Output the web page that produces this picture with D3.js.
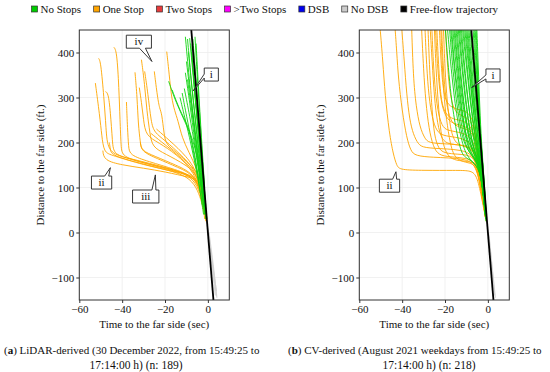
<!DOCTYPE html>
<html>
<head>
<meta charset="utf-8">
<script src="https://cdn.jsdelivr.net/npm/d3@7"></script>
<style>
  body { margin: 0; background: #fff; }
  svg text { font-family: "Liberation Serif", "Times New Roman", serif; }
</style>
</head>
<body>
<div id="chart"></div>
<script>
// Trajectory plots: time to far side (sec) vs distance to far side (ft)
// Each trajectory is a list of [time, distance] points.

const legendLabels = ['No Stops', 'One Stop', 'Two Stops', '>Two Stops', 'DSB', 'No DSB', 'Free-flow trajectory'];
const legendColors = ['#00cc00', '#ffa500', '#e83b3b', '#ff00ff', '#0000ee', '#cccccc', '#000000'];

const xTicks = [-60, -40, -20, 0];
const yTicks = [-100, 0, 100, 200, 300, 400];

const freeFlow = [[-7.9, 460], [2.6, -150]];

// (a) LiDAR-derived
const lidarOneStop = [
  [[-52.5, 332], [-50.5, 260], [-49.5, 215], [-48.5, 178], [-45, 172], [-30, 150], [-15, 135], [-5, 122], [-2.5, 80], [-1.5, 30]],
  [[-51, 387], [-50, 380], [-48.5, 300], [-47.5, 230], [-46.8, 180], [-40, 168], [-25, 148], [-10, 130], [-4, 120], [-2, 60]],
  [[-47.8, 313], [-46.5, 310], [-45.5, 270], [-44.5, 200], [-44, 172], [-35, 163], [-20, 145], [-5, 124], [-2, 50]],
  [[-44, 412], [-42.5, 405], [-41.5, 320], [-41, 250], [-40.5, 190], [-40, 168], [-30, 155], [-15, 138], [-5, 123], [-2.5, 70]],
  [[-49, 182], [-48.5, 160], [-40, 150], [-30, 143], [-20, 135], [-8, 122], [-3, 115], [-1.5, 40]],
  [[-34, 356], [-33, 300], [-32.5, 240], [-31.5, 200], [-31, 182], [-25, 170], [-15, 150], [-5, 128], [-2, 60]],
  [[-31, 384], [-29.5, 330], [-28.5, 270], [-27, 220], [-26, 190], [-20, 175], [-10, 150], [-4, 125], [-1.5, 40]],
  [[-29.5, 358], [-28, 310], [-26.5, 245], [-25, 222], [-20, 205], [-12, 170], [-5, 135], [-2, 60]],
  [[-25, 358], [-23.5, 300], [-22.5, 275], [-21.5, 265], [-20.5, 220], [-19.5, 195], [-15, 180], [-8, 150], [-3, 122], [-1, 30]],
  [[-19.2, 402], [-18, 350], [-17, 300], [-15.5, 270], [-14, 250], [-12, 210], [-9, 180], [-5, 140], [-2, 90], [-1, 25]],
  [[-32, 322], [-31, 290], [-30, 250], [-29, 215], [-23, 200], [-15, 175], [-6, 135], [-2.5, 70]],
  [[-38, 290], [-37.5, 230], [-37, 190], [-36.5, 172], [-28, 158], [-15, 140], [-5, 122], [-2, 60]],
  [[-46, 200], [-45.5, 185], [-45, 172], [-35, 158], [-20, 140], [-6, 122], [-2, 50]],
  [[-26.5, 220], [-20, 195], [-12, 165], [-5, 130], [-2, 70]],
  [[-24, 230], [-18, 205], [-10, 170], [-4, 128], [-1.5, 40]],
  [[-31.5, 200], [-31, 180], [-24, 165], [-14, 145], [-5, 125], [-2, 60]]
];

const lidarNoStop = [
  [[-10.5, 435], [-8.5, 330], [-6, 220], [-3.5, 120], [-1.5, 50]],
  [[-9.5, 430], [-8, 350], [-5.5, 230], [-3, 120], [-1.5, 45]],
  [[-8.5, 432], [-6.5, 330], [-4.5, 220], [-2.5, 110], [-1, 30]],
  [[-7, 430], [-5.5, 340], [-4, 230], [-2.5, 120], [-1, 40]],
  [[-10.5, 355], [-8.5, 290], [-6, 200], [-3.5, 110], [-1.5, 40]],
  [[-18.3, 336], [-15, 290], [-10, 240], [-6.7, 199], [-3.5, 88], [-2, 40]],
  [[-16.7, 317], [-13, 270], [-9.8, 243], [-6, 190], [-4.3, 154], [-2, 60]],
  [[-11, 320], [-8.5, 260], [-6, 190], [-3, 100]],
  [[-6, 435], [-5, 350], [-3.5, 240], [-2, 120], [-0.5, 30]],
  [[-9, 400], [-7.5, 320], [-5, 220], [-3, 130], [-1.5, 60]],
  [[-12, 310], [-10, 260], [-7.5, 200], [-4, 110]],
  [[-8, 420], [-6, 310], [-4, 200], [-2, 90]],
  [[-10, 380], [-8, 300], [-6, 230], [-4, 150], [-2, 80]],
  [[-7.5, 400], [-6.5, 330], [-5, 260], [-3, 160], [-1.5, 70]],
  [[-5.5, 420], [-4.5, 330], [-3, 210], [-1.5, 100]],
  [[-9.5, 340], [-7.5, 270], [-5, 180], [-2.5, 80]],
  [[-13, 300], [-10.5, 250], [-8, 200], [-5, 130], [-2.5, 60]]
];

const lidarNoDsb = [
  [[0, 10], [2, -60], [4, -140]],
  [[0.5, 0], [2.5, -70], [4.2, -145]],
  [[0, 5], [1.8, -70], [3.5, -140]],
  [[0.3, -10], [3, -100], [4, -130]]
];

// (b) CV-derived
const cvOneStop = [
  [[-50.4, 460], [-49, 380], [-48, 307], [-46, 220], [-44.1, 173], [-42.5, 148], [-41, 139], [-30, 138], [-15, 138], [-8.4, 138], [-5.2, 129], [-3, 80], [-0.8, 25]],
  [[-43.4, 460], [-42.5, 400], [-41.8, 344], [-40, 270], [-37.9, 210], [-36, 182], [-34, 170], [-25, 167], [-19, 166], [-10, 163], [-5.5, 150], [-3, 90], [-1, 30]],
  [[-40.3, 460], [-39, 380], [-37.9, 307], [-36.5, 250], [-34.8, 218], [-32.5, 196], [-30, 188], [-20, 186], [-14.6, 184], [-8, 178], [-5, 150], [-2.5, 80], [-1, 30]],
  [[-35.6, 460], [-34.8, 344], [-33.5, 280], [-31.7, 233], [-29.5, 210], [-27.8, 199], [-20, 197], [-12, 195], [-7, 185], [-4.5, 150], [-2.5, 80], [-1, 30]],
  [[-29.4, 460], [-28.6, 370], [-27.5, 300], [-26, 255], [-24, 225], [-21, 215], [-15, 212], [-9, 205], [-5.5, 175], [-3, 100], [-1, 30]],
  [[-26.2, 460], [-25.5, 380], [-24.5, 310], [-23, 260], [-21, 232], [-18, 226], [-12, 222], [-7, 210], [-4.5, 165], [-2.5, 80]],
  [[-23.9, 460], [-23, 370], [-22, 300], [-20.5, 270], [-18, 255], [-14, 250], [-9, 245], [-6, 215], [-4, 150], [-2, 70]],
  [[-22.7, 460], [-22, 390], [-21, 320], [-19.5, 290], [-17, 278], [-13, 272], [-9, 268], [-6, 240], [-3.5, 150], [-1.5, 50]],
  [[-21.6, 460], [-21, 380], [-20, 310], [-18.5, 265], [-16.5, 240], [-12, 232], [-7, 225], [-4.5, 180], [-2.5, 90]],
  [[-31, 460], [-30, 360], [-29, 290], [-27.5, 230], [-25.5, 190], [-23, 172], [-18, 168], [-10, 166], [-5.5, 155], [-3, 90], [-1, 30]],
  [[-28, 460], [-27, 340], [-26, 270], [-25, 215], [-23, 185], [-20, 176], [-14, 174], [-8, 172], [-5, 155], [-2.5, 70]],
  [[-25, 460], [-24.2, 360], [-23.2, 290], [-22, 220], [-20, 180], [-17, 162], [-12, 159], [-7, 157], [-4.5, 145], [-2, 60]],
  [[-20.8, 460], [-20, 360], [-19, 290], [-17.5, 230], [-15.5, 200], [-12, 192], [-8, 188], [-5, 170], [-3, 110], [-1.2, 40]],
  [[-24.5, 460], [-23.8, 390], [-22.8, 330], [-21.5, 280], [-19, 250], [-15, 240], [-10, 236], [-6, 220], [-4, 160], [-2, 70]],
  [[-27, 460], [-26, 380], [-25, 300], [-23.5, 240], [-21.5, 205], [-18, 196], [-12, 194], [-7, 190], [-4.5, 160], [-2.5, 80]],
  [[-19.8, 460], [-19, 380], [-18, 320], [-16.5, 280], [-14, 262], [-10, 256], [-6.5, 240], [-4, 170], [-2, 80]],
  [[-22, 460], [-21.3, 370], [-20.3, 290], [-19, 240], [-17, 180], [-14, 160], [-9, 155], [-5.5, 150], [-3, 100], [-1.2, 40]]
];

const cvNoStop = [
  [[-20, 460], [-17.5, 307], [-15, 233], [-12.5, 175], [-10, 165], [-4, 150], [-2.2, 90], [-0.8, 25]],
  [[-19, 460], [-16.5, 330], [-14, 240], [-11, 180], [-8, 160], [-3.5, 140], [-2, 80], [-0.8, 25]],
  [[-18, 460], [-16, 340], [-13.5, 250], [-11, 190], [-6, 165], [-3, 130], [-1.5, 50]],
  [[-17.5, 460], [-15, 330], [-12.5, 240], [-10, 185], [-7, 170], [-3.5, 140], [-1.5, 50]],
  [[-16.5, 460], [-14.5, 350], [-12, 260], [-9.5, 200], [-6, 175], [-3, 130], [-1.2, 40]],
  [[-16, 460], [-13.5, 330], [-11, 230], [-8.5, 180], [-5, 160], [-2.5, 110], [-1, 30]],
  [[-15, 460], [-13, 350], [-11, 270], [-8.5, 210], [-5.5, 175], [-3, 130], [-1.2, 40]],
  [[-14.5, 460], [-12.5, 340], [-10, 240], [-8, 190], [-5.5, 165], [-2.5, 110], [-1, 30]],
  [[-14, 460], [-12, 360], [-10, 270], [-7.5, 200], [-4.5, 160], [-2.5, 110], [-1, 30]],
  [[-13.5, 460], [-11.5, 350], [-9.5, 260], [-7, 190], [-4, 150], [-2, 90], [-0.8, 30]],
  [[-13, 460], [-11, 360], [-9, 280], [-7, 220], [-4.5, 170], [-2.5, 110], [-1, 30]],
  [[-12.5, 460], [-10.5, 350], [-8.5, 260], [-6.5, 200], [-4, 155], [-2, 90], [-0.8, 30]],
  [[-12, 460], [-10, 370], [-8, 280], [-6, 210], [-4, 165], [-2, 90], [-0.8, 30]],
  [[-11.5, 460], [-9.5, 360], [-7.5, 270], [-5.5, 200], [-3.5, 150], [-1.5, 60]],
  [[-11, 460], [-9, 370], [-7.5, 300], [-5.5, 220], [-3.5, 160], [-1.5, 60]],
  [[-10.5, 460], [-8.5, 360], [-7, 280], [-5, 200], [-3.5, 150], [-1.5, 60]],
  [[-10, 460], [-8.5, 380], [-7, 300], [-5, 220], [-3, 150], [-1.2, 50]],
  [[-9.5, 460], [-8, 370], [-6.5, 290], [-5, 230], [-3, 160], [-1.2, 50]],
  [[-9, 460], [-7.5, 370], [-6, 280], [-4.5, 210], [-3, 160], [-1, 40]],
  [[-8.5, 460], [-7, 380], [-6, 310], [-4.5, 230], [-3, 170], [-1, 40]],
  [[-8, 460], [-6.5, 370], [-5.5, 300], [-4, 220], [-2.5, 150], [-1, 40]],
  [[-7, 460], [-6, 380], [-5, 300], [-4, 230], [-2.5, 150], [-1, 40]],
  [[-6.5, 460], [-5.5, 370], [-4.5, 290], [-3.5, 210], [-2, 130], [-0.8, 40]],
  [[-6, 460], [-5.2, 380], [-4.5, 300], [-3.5, 220], [-2, 130], [-0.8, 40]],
  [[-5.5, 460], [-5, 380], [-4.2, 290], [-3.2, 200], [-2, 120], [-0.7, 35]],
  [[-5.2, 460], [-4.5, 370], [-3.8, 280], [-3, 200], [-1.8, 120], [-0.7, 35]],
  [[-17, 460], [-15.5, 360], [-13, 280], [-10.5, 210], [-8, 172], [-4.5, 160], [-2.2, 90]],
  [[-15.5, 460], [-14, 370], [-12, 290], [-9.5, 220], [-7, 180], [-4, 165], [-2, 90]]
];

const cvNoDsb = [
  [[0.5, -5], [2, -80], [3.5, -145]],
  [[0.3, 0], [2.2, -90], [3.2, -140]]
];

// callouts: [label, box time, box dist, tip time, tip dist, tail side]
const lidarNotes = [
  ['iv', -32.2, 424, -26.1, 380, 'bottom'],
  ['i', 1.6, 351, -6.8, 315, 'left'],
  ['ii', -49.6, 111, -45.5, 144, 'top'],
  ['iii', -29, 80, -24.5, 128, 'top']
];
const cvNotes = [
  ['i', 2.4, 349, -7.6, 322, 'left'],
  ['ii', -45.9, 104, -42.9, 135, 'top']
];

const captionA = ['a', ' LiDAR-derived (30 December 2022, from 15:49:25 to', '17:14:00 h) (n: 189)'];
const captionB = ['b', ' CV-derived (August 2021 weekdays from 15:49:25 to', '17:14:00 h) (n: 218)'];

const W = 550, H = 372;
const plotTop = 30, plotBottom = 300, plotWidth = 150;
const FONT = '"Liberation Serif", "Times New Roman", serif';

const svg = d3.select('#chart').append('svg')
  .attr('width', W).attr('height', H);

// ---- legend ----
const legend = svg.append('g').attr('transform', 'translate(31.5,9)');
let lx = 0;
legendLabels.forEach((lab, i) => {
  legend.append('rect')
    .attr('x', lx).attr('y', -3).attr('width', 6).attr('height', 6)
    .attr('fill', legendColors[i]).attr('stroke', '#333').attr('stroke-width', 0.7);
  const t = legend.append('text')
    .attr('x', lx + 9).attr('y', 0).attr('dy', '0.35em')
    .attr('font-family', FONT).attr('font-size', 11).attr('fill', '#111').text(lab);
  lx += 9 + t.node().getComputedTextLength() + 12.5;
});

const panels = [
  { id: 'a', left: 79.3, oneStop: lidarOneStop, noStop: lidarNoStop, noDsb: lidarNoDsb, notes: lidarNotes, caption: captionA, capLeft: 4, capX2: 136 },
  { id: 'b', left: 359.3, oneStop: cvOneStop, noStop: cvNoStop, noDsb: cvNoDsb, notes: cvNotes, caption: captionB, capLeft: 288, capX2: 429 }
];

panels.forEach(p => {
  const g = svg.append('g').attr('transform', `translate(${p.left},0)`);
  const x = d3.scaleLinear().domain([-60, 10]).range([0, plotWidth]);
  const y = d3.scaleLinear().domain([-150, 450]).range([plotBottom, plotTop]);

  const clipId = 'clip-' + p.id;
  g.append('clipPath').attr('id', clipId)
    .append('rect').attr('x', 0).attr('y', plotTop).attr('width', plotWidth).attr('height', plotBottom - plotTop);

  // grid
  g.append('g').selectAll('line').data(xTicks).join('line')
    .attr('x1', d => x(d)).attr('x2', d => x(d)).attr('y1', plotTop).attr('y2', plotBottom)
    .attr('stroke', '#eeeeee').attr('stroke-width', 0.8);
  g.append('g').selectAll('line').data(yTicks).join('line')
    .attr('y1', d => y(d)).attr('y2', d => y(d)).attr('x1', 0).attr('x2', plotWidth)
    .attr('stroke', '#eeeeee').attr('stroke-width', 0.8);

  const line = d3.line().x(d => x(d[0])).y(d => y(d[1])).curve(d3.curveBasis);
  const plot = g.append('g').attr('clip-path', `url(#${clipId})`);

  plot.append('g').selectAll('path').data(p.noDsb).join('path')
    .attr('d', line).attr('fill', 'none').attr('stroke', '#cfcfcf').attr('stroke-width', 1.2).attr('opacity', 0.8);
  plot.append('g').selectAll('path').data(p.oneStop).join('path')
    .attr('d', line).attr('fill', 'none').attr('stroke', '#ffa600').attr('stroke-width', 1).attr('opacity', 0.9);
  plot.append('g').selectAll('path').data(p.noStop).join('path')
    .attr('d', line).attr('fill', 'none').attr('stroke', '#11d411').attr('stroke-width', 1).attr('opacity', 0.9);
  plot.append('path').datum(freeFlow)
    .attr('d', d3.line().x(d => x(d[0])).y(d => y(d[1])))
    .attr('fill', 'none').attr('stroke', '#000').attr('stroke-width', 1.8);

  // frame
  g.append('rect').attr('x', 0).attr('y', plotTop).attr('width', plotWidth).attr('height', plotBottom - plotTop)
    .attr('fill', 'none').attr('stroke', '#333').attr('stroke-width', 1);

  // axes
  const xAxis = g.append('g').attr('transform', `translate(0,${plotBottom})`)
    .call(d3.axisBottom(x).tickValues(xTicks).tickSize(3).tickPadding(2));
  const yAxis = g.append('g')
    .call(d3.axisLeft(y).tickValues(yTicks).tickSize(3).tickPadding(2));
  [xAxis, yAxis].forEach(a => {
    a.attr('font-family', FONT).attr('font-size', 11);
    a.select('.domain').remove();
    a.selectAll('line').attr('stroke', '#333');
    a.selectAll('text').attr('fill', '#111');
  });

  g.append('text')
    .attr('x', plotWidth / 2).attr('y', 324).attr('dy', '0.35em')
    .attr('text-anchor', 'middle').attr('font-family', FONT).attr('font-size', 11).attr('fill', '#111')
    .text('Time to the far side (sec)');
  g.append('text')
    .attr('transform', `translate(-39,165) rotate(-90)`).attr('dy', '0.35em')
    .attr('text-anchor', 'middle').attr('font-family', FONT).attr('font-size', 11).attr('fill', '#111')
    .text('Distance to the far side (ft.)');

  // callouts
  p.notes.forEach(n => {
    const [label, bt, bd, tt, td, side] = n;
    const cx = x(bt), cy = y(bd), tx = x(tt), ty = y(td);
    const cg = g.append('g');
    const txt = cg.append('text').attr('x', cx).attr('y', cy).attr('dy', '0.32em')
      .attr('text-anchor', 'middle').attr('font-family', FONT).attr('font-size', 11).attr('fill', '#111').text(label);
    const w = txt.node().getComputedTextLength() * 2 + 8, h = 13;
    const x0 = cx - w / 2, x1 = cx + w / 2, y0 = cy - h / 2, y1 = cy + h / 2;
    let dPath;
    if (side === 'bottom') {
      dPath = `M${x0},${y0}H${x1}V${y1}H${x1 - 6}L${tx},${ty}L${x1 - 12},${y1}H${x0}Z`;
    } else if (side === 'top') {
      dPath = `M${x0},${y0}H${x1 - 7}L${tx},${ty}L${x1 - 3},${y0}H${x1}V${y1}H${x0}Z`;
    } else {
      dPath = `M${x0},${y0}H${x1}V${y1}H${x0}V${y1 - 3}L${tx},${ty}L${x0},${y1 - 7}Z`;
    }
    cg.insert('path', 'text').attr('d', dPath)
      .attr('fill', '#fff').attr('stroke', '#222').attr('stroke-width', 0.9);
  });

  // caption: two lines under each panel
  const c1 = svg.append('text')
    .attr('x', p.capLeft).attr('y', 350).attr('dy', '0.35em')
    .attr('font-family', FONT).attr('font-size', 11).attr('fill', '#111');
  c1.append('tspan').text('(');
  c1.append('tspan').attr('font-weight', 'bold').text(p.caption[0]);
  c1.append('tspan').text(')' + p.caption[1]);
  svg.append('text')
    .attr('x', p.capX2).attr('y', 365).attr('dy', '0.35em')
    .attr('text-anchor', 'middle').attr('font-family', FONT).attr('font-size', 11.5).attr('fill', '#111')
    .text(p.caption[2]);
});
</script>
</body>
</html>
